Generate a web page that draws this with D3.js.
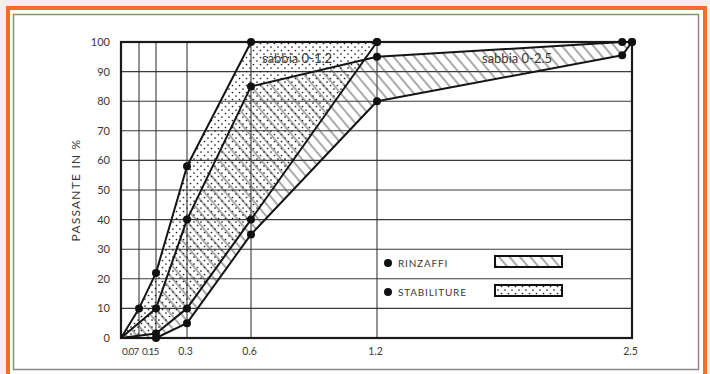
<!DOCTYPE html>
<html lang="it">
<head>
<meta charset="UTF-8">
<script src="https://d3js.org/d3.v7.min.js"></script>
<title>Passante</title>
<style>
  body{ margin:0; background:#f4efe8; }
  svg{ display:block; }
  text{ font-family: Lato, "Open Sans", sans-serif; fill:#3a3a3a; }
</style>
</head>
<body>
<svg id="chart" width="710" height="374"></svg>
<script>
// setacci (mm) e valori percentuali
var xTicks = [0.07, 0.15, 0.3, 0.6, 1.2, 2.5];
var xLabels = ["0.07", "0.15", "0.3", "0.6", "1.2", "2.5"];
var yTicks = [0, 10, 20, 30, 40, 50, 60, 70, 80, 90, 100];

// stabiliture, sabbia 0-1.2
var stabUpperX = [0, 0.07, 0.15, 0.3, 0.6, 1.2];
var stabUpperY = [0, 10, 22, 58, 100, 100];
var stabLowerX = [0, 0.15, 0.3, 0.6, 1.2];
var stabLowerY = [0, 1.5, 10, 40, 100];

// rinzaffi, sabbia 0-2.5
var rinzUpperX = [0, 0.15, 0.3, 0.6, 1.2, 2.45, 2.5];
var rinzUpperY = [0, 10, 40, 85, 95, 100, 100];
var rinzLowerX = [0, 0.15, 0.3, 0.6, 1.2, 2.45, 2.5];
var rinzLowerY = [0, 0, 5, 35, 80, 95.5, 100];

var zip = function(xs, ys){ return xs.map(function(d,i){ return [d, ys[i]]; }); };
var stabUpper = zip(stabUpperX, stabUpperY),
    stabLower = zip(stabLowerX, stabLowerY),
    rinzUpper = zip(rinzUpperX, rinzUpperY),
    rinzLower = zip(rinzLowerX, rinzLowerY);

var svg = d3.select("#chart");

// cornice
svg.append("rect").attr("x", 8).attr("y", 8).attr("width", 697).attr("height", 380)
  .attr("fill", "#fff").attr("stroke", "#ef7125").attr("stroke-width", 4);
svg.append("rect").attr("x", 13.5).attr("y", 14.5).attr("width", 685).attr("height", 355)
  .attr("fill", "none").attr("stroke", "#8a8a8a").attr("stroke-width", 1.5);

// la scala x del disegno non e' uniforme: lineare a tratti tra i setacci
var x = d3.scaleLinear()
  .domain([0].concat(xTicks))
  .range([121, 139, 156, 187, 251, 377, 632]);
var y = d3.scaleLinear().domain([0, 100]).range([338, 42]);

var defs = svg.append("defs");
var hatch = defs.append("pattern").attr("id", "hatch")
  .attr("patternUnits", "userSpaceOnUse").attr("width", 8).attr("height", 8)
  .attr("patternTransform", "rotate(-40)");
hatch.append("line").attr("x1", 1).attr("y1", 0).attr("x2", 1).attr("y2", 8)
  .attr("stroke", "#555").attr("stroke-width", 1);

var dots = defs.append("pattern").attr("id", "dots")
  .attr("patternUnits", "userSpaceOnUse").attr("width", 7).attr("height", 7);
dots.append("circle").attr("cx", 1.5).attr("cy", 1.5).attr("r", 0.85).attr("fill", "#222");
dots.append("circle").attr("cx", 5).attr("cy", 5).attr("r", 0.85).attr("fill", "#222");

var line = d3.line().x(function(d){ return x(d[0]); }).y(function(d){ return y(d[1]); });

// griglia
svg.append("g").selectAll("line").data(yTicks).join("line")
  .attr("x1", x(0)).attr("x2", x(2.5))
  .attr("y1", function(d){ return y(d); }).attr("y2", function(d){ return y(d); })
  .attr("stroke", "#3a3a3a").attr("stroke-width", 1.1);
svg.append("g").selectAll("line").data(xTicks).join("line")
  .attr("x1", function(d){ return x(d); }).attr("x2", function(d){ return x(d); })
  .attr("y1", y(0)).attr("y2", y(100))
  .attr("stroke", "#3a3a3a").attr("stroke-width", 1.1);

// aree
svg.append("path").attr("d", line(rinzUpper.concat(rinzLower.slice().reverse())) + "Z")
  .attr("fill", "url(#hatch)");
svg.append("path").attr("d", line(stabUpper.concat(stabLower.slice().reverse())) + "Z")
  .attr("fill", "url(#dots)");

// cornice del grafico
svg.append("rect").attr("x", x(0)).attr("y", y(100))
  .attr("width", x(2.5) - x(0)).attr("height", y(0) - y(100))
  .attr("fill", "none").attr("stroke", "#1a1a1a").attr("stroke-width", 2.2);

// curve
[stabUpper, stabLower, rinzUpper, rinzLower].forEach(function(c){
  svg.append("path").attr("d", line(c)).attr("fill", "none")
    .attr("stroke", "#151515").attr("stroke-width", 2).attr("stroke-linejoin", "round");
});

// punti
var pts = stabUpper.concat(stabLower, rinzUpper, rinzLower).filter(function(d){ return d[0] > 0; });
svg.append("g").selectAll("circle").data(pts).join("circle")
  .attr("cx", function(d){ return x(d[0]); }).attr("cy", function(d){ return y(d[1]); })
  .attr("r", 4).attr("fill", "#111");

// assi
var gx = svg.append("g").attr("transform", "translate(0," + y(0) + ")")
  .call(d3.axisBottom(x).tickValues(xTicks).tickSize(0).tickPadding(10)
    .tickFormat(function(d, i){ return xLabels[i]; }));
gx.select(".domain").remove();
gx.selectAll("text").style("font-size", function(d, i){ return i < 2 ? "10px" : "10.5px"; })
  .attr("fill", "#3a3a3a")
  .style("letter-spacing", function(d, i){ return i < 2 ? "-0.8px" : "0px"; })
  .attr("text-anchor", function(d, i){ return i < 2 ? "end" : "middle"; })
  .attr("dx", function(d, i){ return ["-1px", "2px"][i] || "-2px"; });

var gy = svg.append("g").attr("transform", "translate(" + x(0) + ",0)")
  .call(d3.axisLeft(y).tickValues(yTicks).tickSize(0).tickPadding(11));
gy.select(".domain").remove();
gy.selectAll("text").style("font-size", "11px").attr("fill", "#3a3a3a");

svg.append("text").attr("transform", "translate(80,190) rotate(-90)")
  .attr("text-anchor", "middle").style("font-size", "12px")
  .style("letter-spacing", "1.2px").attr("fill", "#6a6a6a")
  .text("PASSANTE  IN %");

// etichette delle sabbie
svg.append("text").attr("x", 262).attr("y", 63).style("font-size", "13px").text("sabbia 0-1.2");
svg.append("text").attr("x", 482).attr("y", 63).style("font-size", "13px").text("sabbia 0-2.5");

// legenda
var legend = [
  {name: "RINZAFFI", fill: "url(#hatch)"},
  {name: "STABILITURE", fill: "url(#dots)"}
];
var lg = svg.append("g").selectAll("g").data(legend).join("g")
  .attr("transform", function(d, i){ return "translate(388," + (263 + i * 29) + ")"; });
lg.append("circle").attr("r", 4).attr("fill", "#111");
lg.append("text").attr("x", 10).attr("y", 4).style("font-size", "10px")
  .style("letter-spacing", "0.8px").attr("fill", "#555").text(function(d){ return d.name; });
lg.append("rect").attr("x", 107).attr("y", -7).attr("width", 67).attr("height", 11)
  .attr("fill", function(d){ return d.fill; }).attr("stroke", "#111").attr("stroke-width", 2);
</script>
</body>
</html>
